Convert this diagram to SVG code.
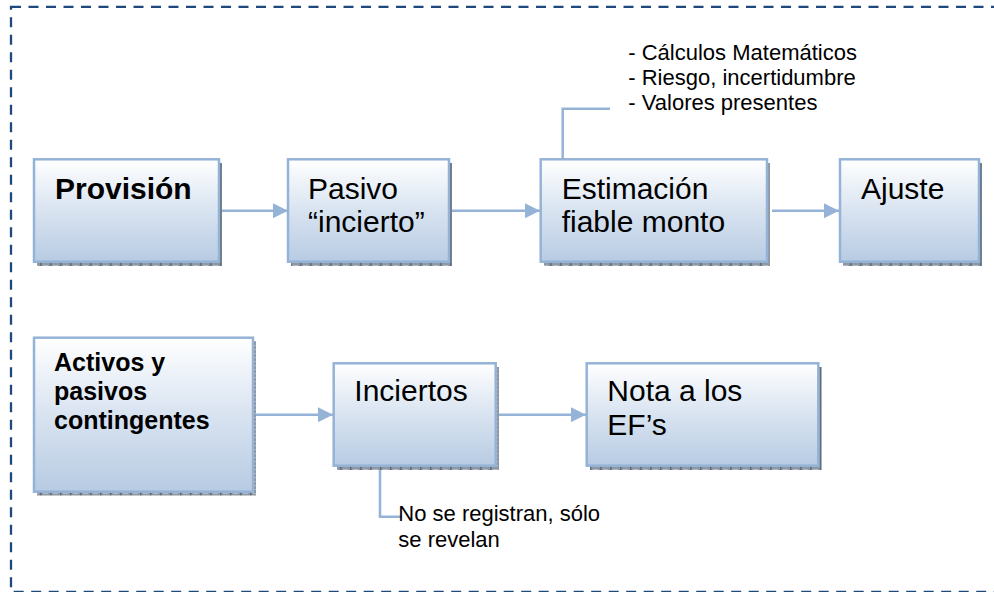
<svg xmlns="http://www.w3.org/2000/svg" width="994" height="592" viewBox="0 0 994 592">
<style>
  .box{fill:url(#grad);stroke:#95B3D7;stroke-width:2.5}
  .shadow{fill:url(#hatch)}
  .t{font-family:"Liberation Sans",Arial,sans-serif;fill:#000}
  .big{font-size:30px}
  .bold{font-weight:bold}
  .small{font-size:22px}
  .conn{stroke:#95B3D7;stroke-width:2.5;fill:none}
</style>
<defs>
  <linearGradient id="grad" x1="0" y1="0" x2="0" y2="1">
    <stop offset="0" stop-color="#FFFFFF"/>
    <stop offset="0.45" stop-color="#DCE6F2"/>
    <stop offset="1" stop-color="#B7CBE3"/>
  </linearGradient>
  <pattern id="hatch" width="10" height="4" patternUnits="userSpaceOnUse">
    <rect width="10" height="4" fill="#8E98A4"/>
    <rect x="0" width="1.5" height="4" fill="#5F6B78"/>
    <rect x="3" y="1" width="5" height="1" fill="#B0B8C2"/>
  </pattern>
  <marker id="arrow" viewBox="0 0 10 10" refX="10" refY="5" markerWidth="6" markerHeight="6" markerUnits="strokeWidth" orient="auto">
    <path d="M0,0 L10,5 L0,10 z" fill="#95B3D7"/>
  </marker>
</defs>
<rect x="11" y="6.8" width="1000" height="585.2" fill="none" stroke="#1F497D" stroke-width="2.3" stroke-dasharray="10 7.5"/>

<g id="connectors">
  <line class="conn" x1="220" y1="210.7" x2="288" y2="210.7" marker-end="url(#arrow)"/>
  <line class="conn" x1="450" y1="210.7" x2="540" y2="210.7" marker-end="url(#arrow)"/>
  <line class="conn" x1="772" y1="210.7" x2="839" y2="210.7" marker-end="url(#arrow)"/>
  <polyline class="conn" points="562.7,159 562.7,108.7 610,108.7"/>
  <line class="conn" x1="255" y1="414.7" x2="333" y2="414.7" marker-end="url(#arrow)"/>
  <line class="conn" x1="498" y1="414.7" x2="586" y2="414.7" marker-end="url(#arrow)"/>
  <polyline class="conn" points="380,467 380,516.7 402,516.7"/>
</g>

<g id="provision">
  <rect class="shadow" x="37" y="163" width="185" height="103"/>
  <rect class="box" x="34" y="159.3" width="185" height="102.4"/>
  <text class="t big bold" x="55" y="199.3">Provisión</text>
</g>
<g id="pasivo">
  <rect class="shadow" x="291" y="163" width="161" height="103"/>
  <rect class="box" x="288" y="159.3" width="161" height="102.4"/>
  <text class="t big" x="308" y="199"><tspan x="308">Pasivo</tspan><tspan x="308" dy="33">“incierto”</tspan></text>
</g>
<g id="estimacion">
  <rect class="shadow" x="544" y="163" width="226" height="103"/>
  <rect class="box" x="540.7" y="159.3" width="226.3" height="102.4"/>
  <text class="t big" x="561.7" y="199"><tspan x="561.7">Estimación</tspan><tspan x="561.7" dy="33">fiable monto</tspan></text>
</g>
<g id="ajuste">
  <rect class="shadow" x="843" y="163" width="139" height="103"/>
  <rect class="box" x="840" y="159.3" width="139" height="102.4"/>
  <text class="t big" x="861" y="199">Ajuste</text>
</g>
<g id="nota-estimacion">
  <text class="t small" x="628.3" y="60"><tspan x="628.3">- Cálculos Matemáticos</tspan><tspan x="628.3" dy="25">- Riesgo, incertidumbre</tspan><tspan x="628.3" dy="25">- Valores presentes</tspan></text>
</g>

<g id="activos">
  <rect class="shadow" x="37" y="341" width="219" height="154.5"/>
  <rect class="box" x="34" y="337.7" width="219" height="154"/>
  <text class="t bold" font-size="25" x="54" y="371"><tspan x="54">Activos y</tspan><tspan x="54" dy="29">pasivos</tspan><tspan x="54" dy="29">contingentes</tspan></text>
</g>
<g id="inciertos">
  <rect class="shadow" x="337" y="367" width="162" height="103"/>
  <rect class="box" x="333.7" y="363.3" width="162" height="102.4"/>
  <text class="t big" x="354.3" y="400.7">Inciertos</text>
</g>
<g id="nota">
  <rect class="shadow" x="590" y="367" width="231.6" height="103"/>
  <rect class="box" x="586.7" y="363.3" width="231.6" height="102.4"/>
  <text class="t big" x="607.3" y="401"><tspan x="607.3">Nota a los</tspan><tspan x="607.3" dy="34">EF’s</tspan></text>
</g>
<g id="nota-inciertos">
  <text class="t small" x="398.3" y="520.7"><tspan x="398.3">No se registran, sólo</tspan><tspan x="398.3" dy="26">se revelan</tspan></text>
</g>
</svg>
